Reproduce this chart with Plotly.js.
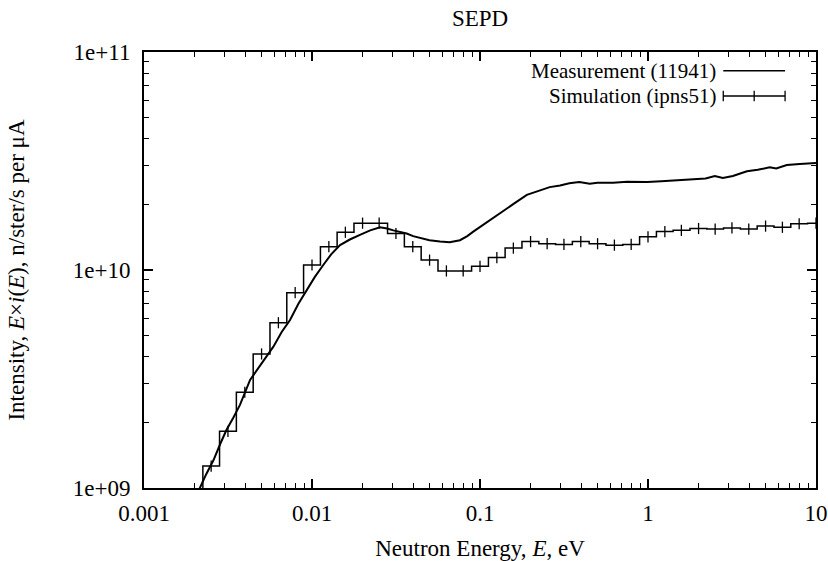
<!DOCTYPE html>
<html>
<head>
<meta charset="utf-8">
<script src="https://cdn.plot.ly/plotly-3.0.1.min.js"></script>
<style>body{margin:0;background:#fff}#chart{width:828px;height:561px}</style>
</head>
<body>
<div id="chart"></div>
<script>
// Measurement (11941): energy (eV) and intensity
var measE = [0.00200, 0.00215, 0.00235, 0.00259, 0.00285, 0.00310, 0.00340, 0.00372, 0.00428, 0.00500, 0.00589, 0.00660, 0.00740, 0.00830, 0.00929, 0.0104, 0.01167, 0.0130, 0.01469, 0.0168, 0.0193, 0.0222, 0.0254, 0.0280, 0.0305, 0.0335, 0.0366, 0.0400, 0.0440, 0.0500, 0.0578, 0.0660, 0.0760, 0.0840, 0.0912, 0.105, 0.1315, 0.160, 0.190, 0.220, 0.260, 0.300, 0.340, 0.390, 0.450, 0.500, 0.620, 0.750, 0.990, 1.20, 1.50, 1.85, 2.20, 2.50, 2.79, 3.20, 3.88, 4.50, 5.30, 5.80, 6.70, 8.00, 9.60, 10.0];
var measI = [0.93e9, 1.00e9, 1.16e9, 1.34e9, 1.60e9, 1.85e9, 2.10e9, 2.40e9, 3.13e9, 3.70e9, 4.45e9, 5.20e9, 5.90e9, 7.00e9, 8.09e9, 9.30e9, 1.054e10, 1.18e10, 1.30e10, 1.38e10, 1.45e10, 1.52e10, 1.57e10, 1.55e10, 1.52e10, 1.49e10, 1.47e10, 1.43e10, 1.40e10, 1.37e10, 1.35e10, 1.34e10, 1.37e10, 1.43e10, 1.50e10, 1.62e10, 1.82e10, 2.02e10, 2.21e10, 2.30e10, 2.40e10, 2.44e10, 2.50e10, 2.53e10, 2.49e10, 2.51e10, 2.51e10, 2.54e10, 2.53e10, 2.55e10, 2.58e10, 2.61e10, 2.63e10, 2.70e10, 2.64e10, 2.70e10, 2.84e10, 2.88e10, 2.96e10, 2.92e10, 3.03e10, 3.06e10, 3.09e10, 3.10e10];

// Simulation (ipns51): histogram bin centres (eV) and intensity
var simE = [0.00200, 0.00251, 0.00316, 0.00398, 0.00501, 0.00631, 0.00794, 0.0100, 0.0126, 0.0158, 0.0200, 0.0251, 0.0316, 0.0398, 0.0501, 0.0631, 0.0794, 0.100, 0.126, 0.158, 0.200, 0.251, 0.316, 0.398, 0.501, 0.631, 0.794, 1.00, 1.26, 1.58, 2.00, 2.51, 3.16, 3.98, 5.01, 6.31, 7.94, 10.0];
var simI = [7.9e8, 1.26e9, 1.82e9, 2.75e9, 4.12e9, 5.73e9, 7.87e9, 1.054e10, 1.28e10, 1.49e10, 1.64e10, 1.64e10, 1.47e10, 1.28e10, 1.11e10, 9.9e9, 9.9e9, 1.04e10, 1.14e10, 1.26e10, 1.35e10, 1.32e10, 1.31e10, 1.35e10, 1.32e10, 1.30e10, 1.31e10, 1.42e10, 1.50e10, 1.52e10, 1.55e10, 1.54e10, 1.56e10, 1.54e10, 1.59e10, 1.57e10, 1.63e10, 1.64e10];

var xTickVals = [0.001, 0.01, 0.1, 1, 10];
var xTickText = ["0.001", "0.01", "0.1", "1", "10"];
var yTickVals = [1e9, 1e10, 1e11];
var yTickText = ["1e+09", "1e+10", "1e+11"];
var seriesNames = ["Measurement (11941)", "Simulation (ipns51)"];

var FONT = "Liberation Serif, Times New Roman, serif";
var FS = 23;

var traces = [
  {x: measE, y: measI, type: "scatter", mode: "lines", name: seriesNames[0],
   line: {color: "#000", width: 2}, showlegend: false},
  {x: simE, y: simI, type: "scatter", mode: "lines+markers", name: seriesNames[1],
   line: {color: "#000", width: 1.5, shape: "hvh"},
   marker: {symbol: "line-ns", size: 8, line: {color: "#000", width: 1.3}},
   showlegend: false}
];

var axisCommon = {
  type: "log", showgrid: false, zeroline: false,
  showline: true, linecolor: "#000", linewidth: 2, mirror: "allticks",
  ticks: "inside", ticklen: 9, tickwidth: 1.2, tickcolor: "#000",
  tickfont: {family: FONT, size: FS, color: "#000"},
  minor: {dtick: "D1", ticks: "inside", ticklen: 5, tickwidth: 1, tickcolor: "#000", showgrid: false}
};

var xaxis = Object.assign({}, axisCommon, {
  range: [-3, 1], tickmode: "array", tickvals: xTickVals, ticktext: xTickText,
  ticklabelstandoff: 3,
  title: {text: "Neutron Energy, <i>E</i>, eV", font: {family: FONT, size: FS, color: "#000"}, standoff: 15}
});
var yaxis = Object.assign({}, axisCommon, {
  range: [9, 11], tickmode: "array", tickvals: yTickVals, ticktext: yTickText,
  ticklabelstandoff: 7,
  title: {text: "Intensity, <i>E</i>×<i>i</i>(<i>E</i>), n/ster/s per μA", font: {family: FONT, size: FS, color: "#000"}, standoff: 42}
});

// legend drawn in paper coordinates (text left, sample on the right like gnuplot)
var LFS = 21;
var lx0 = 0.862, lx1 = 0.954, ly1 = 0.957, ly2 = 0.899, cap = 0.012;
var shapes = [
  {type: "line", xref: "paper", yref: "paper", x0: lx0, x1: lx1, y0: ly1, y1: ly1, line: {color: "#000", width: 1.5}},
  {type: "line", xref: "paper", yref: "paper", x0: lx0, x1: lx1, y0: ly2, y1: ly2, line: {color: "#000", width: 1.5}},
  {type: "line", xref: "paper", yref: "paper", x0: lx0, x1: lx0, y0: ly2 - cap, y1: ly2 + cap, line: {color: "#000", width: 1.3}},
  {type: "line", xref: "paper", yref: "paper", x0: lx1, x1: lx1, y0: ly2 - cap, y1: ly2 + cap, line: {color: "#000", width: 1.3}},
  {type: "line", xref: "paper", yref: "paper", x0: (lx0 + lx1) / 2, x1: (lx0 + lx1) / 2, y0: ly2 - cap, y1: ly2 + cap, line: {color: "#000", width: 1.3}}
];
var annotations = [
  {xref: "paper", yref: "paper", x: 0.853, y: ly1, xanchor: "right", yanchor: "middle", showarrow: false,
   text: seriesNames[0], font: {family: FONT, size: LFS, color: "#000"}, borderpad: 0},
  {xref: "paper", yref: "paper", x: 0.853, y: ly2, xanchor: "right", yanchor: "middle", showarrow: false,
   text: seriesNames[1], font: {family: FONT, size: LFS, color: "#000"}, borderpad: 0}
];

var layout = {
  width: 828, height: 561,
  paper_bgcolor: "#fff", plot_bgcolor: "#fff",
  margin: {l: 144, r: 12, t: 52, b: 73},
  title: {text: "SEPD", font: {family: FONT, size: FS, color: "#000"}, x: 0.5, xref: "paper", y: 0.968, yanchor: "middle"},
  xaxis: xaxis, yaxis: yaxis,
  shapes: shapes, annotations: annotations,
  showlegend: false
};

Plotly.newPlot("chart", traces, layout, {staticPlot: true});
</script>
</body>
</html>
